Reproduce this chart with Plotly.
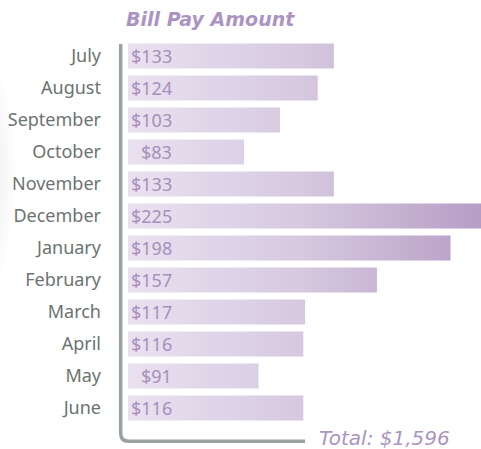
import plotly.graph_objects as go

months = ["July", "August", "September", "October", "November", "December",
          "January", "February", "March", "April", "May", "June"]
amounts = [133, 124, 103, 83, 133, 225, 198, 157, 117, 116, 91, 116]
title_text = "Bill Pay Amount"
total_text = "Total: $1,596"

# layout geometry (pixels)
W_FIG, H_FIG = 481, 449
L, R, T, B = 128, 0, 40, 25
PW, PH = W_FIG - L - R, H_FIG - T - B
XR = [18.3, 215.0]
BAR_H = 25 / 32


def px(x):
    return (x - L) / PW


def py(y):
    return (H_FIG - B - y) / PH


fig = go.Figure()

grad = dict(type="horizontal", start=XR[0], stop=XR[1],
            colorscale=[[0, "#e9e1f0"], [0.5, "#d6c8df"], [1, "#b69dc5"]])

for i, (m, v) in enumerate(zip(months, amounts)):
    y0, y1 = i - BAR_H / 2, i + BAR_H / 2
    fig.add_trace(go.Scatter(
        x=[0, v, v, 0, 0], y=[y0, y0, y1, y1, y0],
        mode="lines", fill="toself", line=dict(width=0),
        fillgradient=grad, hoverinfo="skip", showlegend=False, name=m))

annotations = []
for i, v in enumerate(amounts):
    annotations.append(dict(
        xref="paper", x=0, xshift=46, xanchor="right",
        yref="y", y=i, yanchor="middle",
        text=f"${v}", showarrow=False,
        font=dict(family="Noto Sans", size=18, color="#a78fbb")))

annotations.append(dict(
    xref="paper", x=px(124), xanchor="left",
    yref="paper", y=py(19), yanchor="middle",
    text=f"<b><i>{title_text}</i></b>", showarrow=False,
    font=dict(family="DejaVu Sans", size=19, color="#ab94c2")))

annotations.append(dict(
    xref="paper", x=px(317), xanchor="left",
    yref="paper", y=py(438), yanchor="middle",
    text=f"<i>{total_text}</i>", showarrow=False,
    font=dict(family="DejaVu Sans", size=20, color="#ab94c2")))

shapes = []
# soft glow at left edge
cx, cy, rad = -326, 175, 341
for k in range(10):
    r = rad - k * 3
    shapes.append(dict(
        type="circle", xref="paper", yref="paper", layer="below",
        x0=px(cx - r), x1=px(cx + r), y0=py(cy + r), y1=py(cy - r),
        fillcolor="rgba(185,185,200,0.035)", line=dict(width=0)))

# axis line with rounded corner
ax_x, top_y, bot_y, end_x, rc = 120.7, 44, 441.3, 305, 8
path = (f"M {px(ax_x)},{py(top_y)} L {px(ax_x)},{py(bot_y - rc)} "
        f"Q {px(ax_x)},{py(bot_y)} {px(ax_x + rc)},{py(bot_y)} "
        f"L {px(end_x)},{py(bot_y)}")
shapes.append(dict(type="path", xref="paper", yref="paper", path=path,
                   line=dict(color="#9aa29f", width=3.5)))

fig.update_layout(
    width=W_FIG, height=H_FIG,
    margin=dict(l=L, r=R, t=T, b=B, pad=0),
    paper_bgcolor="white", plot_bgcolor="rgba(0,0,0,0)",
    showlegend=False,
    xaxis=dict(range=XR, visible=False, fixedrange=True),
    yaxis=dict(range=[len(months) - 0.5, -0.5], tickvals=list(range(len(months))),
               ticktext=months, showgrid=False, zeroline=False, showline=False,
               ticks="", ticklabelstandoff=26,
               tickfont=dict(family="Noto Sans", size=18, color="#6b7370"),
               fixedrange=True),
    annotations=annotations, shapes=shapes,
)

fig.write_html("out.html", config={"displayModeBar": False},
               post_script="document.body.style.margin='0';document.body.style.overflow='hidden';")
